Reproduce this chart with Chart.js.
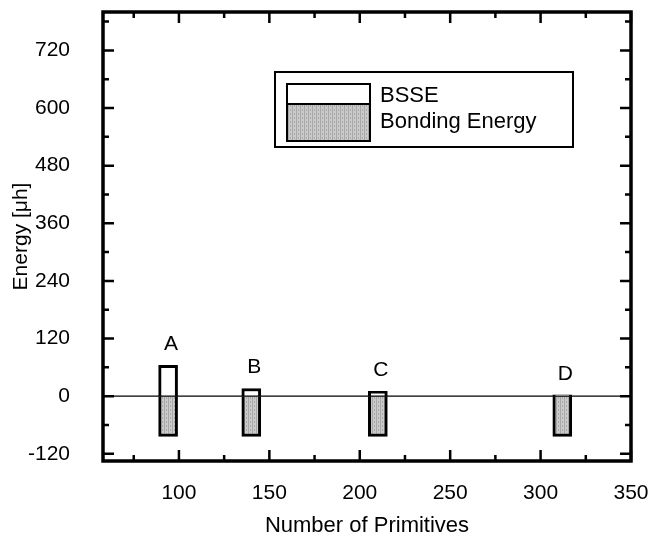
<!DOCTYPE html>
<html>
<head>
<meta charset="utf-8">
<script src="https://cdn.jsdelivr.net/npm/chart.js@4.4.0/dist/chart.umd.min.js"></script>
<style>
  html, body { margin: 0; padding: 0; background: #fff; }
  #wrap { width: 651px; height: 540px; }
</style>
</head>
<body>
<div id="wrap"><canvas id="chart" width="651" height="540"></canvas></div>
<script>
// basis sets A-D: size, BSSE and bonding energy (micro-hartree)
const systems = ["A", "B", "C", "D"];
const primitives = [94, 140, 210, 312];
const bsse = [64, 16, 10, 3];
const bonding = [-84, -84, -84, -84];

const xTicks = [100, 150, 200, 250, 300, 350];
const xMinor = [75, 125, 175, 225, 275, 325];
const yTicks = [-120, 0, 120, 240, 360, 480, 600, 720];
const yMinor = [-60, 60, 180, 300, 420, 540, 660, 780];

const FONT = "'Liberation Sans', Arial, sans-serif";
const canvas = document.getElementById("chart");
const ctx = canvas.getContext("2d");

// dotted grey fill like the printed shading
function shading() {
  const c = document.createElement("canvas");
  c.width = 4; c.height = 4;
  const g = c.getContext("2d");
  g.fillStyle = "#cacaca";
  g.fillRect(0, 0, 4, 4);
  g.fillStyle = "#a8a8a8";
  g.fillRect(0, 0, 1, 4);
  g.fillRect(2, 1, 1, 2);
  return ctx.createPattern(c, "repeat");
}
const grey = shading();

const framePlugin = {
  id: "frame",
  afterDatasetsDraw(chart) {
    const { ctx, chartArea: a, scales: { x, y } } = chart;
    ctx.save();
    ctx.strokeStyle = "#000";
    ctx.fillStyle = "#000";

    // zero line
    const y0 = y.getPixelForValue(0);
    ctx.lineWidth = 1.2;
    ctx.beginPath();
    ctx.moveTo(a.left, y0);
    ctx.lineTo(a.right, y0);
    ctx.stroke();

    // letters over the bars
    ctx.font = "21px " + FONT;
    ctx.textAlign = "center";
    ctx.textBaseline = "middle";
    chart.getDatasetMeta(0).data.forEach((bar, i) => {
      ctx.fillText(systems[i], bar.x + 3, bar.y - 21);
    });

    // box with inward ticks on all sides
    ctx.lineWidth = 3.5;
    ctx.strokeRect(a.left, a.top, a.right - a.left, a.bottom - a.top);
    ctx.lineWidth = 2.5;
    const tick = (vals, len) => {
      vals.forEach(v => {
        const px = x.getPixelForValue(v);
        if (px < a.left || px > a.right) return;
        ctx.beginPath();
        ctx.moveTo(px, a.bottom); ctx.lineTo(px, a.bottom - len);
        ctx.moveTo(px, a.top); ctx.lineTo(px, a.top + len);
        ctx.stroke();
      });
    };
    const ytick = (vals, len) => {
      vals.forEach(v => {
        const py = y.getPixelForValue(v);
        if (py < a.top || py > a.bottom) return;
        ctx.beginPath();
        ctx.moveTo(a.left, py); ctx.lineTo(a.left + len, py);
        ctx.moveTo(a.right, py); ctx.lineTo(a.right - len, py);
        ctx.stroke();
      });
    };
    tick(xTicks, 11);
    tick(xMinor, 6);
    ytick(yTicks, 11);
    ytick(yMinor, 6);

    // legend
    const L = { l: 275, t: 72, r: 573, b: 147 };
    ctx.lineWidth = 2;
    ctx.strokeRect(L.l, L.t, L.r - L.l, L.b - L.t);
    const sw = { l: 287, r: 370 };
    ctx.fillStyle = "#fff";
    ctx.fillRect(sw.l, 84, sw.r - sw.l, 20);
    ctx.fillStyle = grey;
    ctx.fillRect(sw.l, 104, sw.r - sw.l, 37);
    ctx.strokeRect(sw.l, 84, sw.r - sw.l, 20);
    ctx.strokeRect(sw.l, 104, sw.r - sw.l, 37);
    ctx.fillStyle = "#000";
    ctx.textAlign = "left";
    ctx.font = "22px " + FONT;
    ctx.fillText(chart.data.datasets[0].label, 380, 96);
    ctx.fillText(chart.data.datasets[1].label, 380, 122);
    ctx.restore();
  }
};

const tickFont = { family: FONT, size: 21 };

new Chart(ctx, {
  type: "bar",
  data: {
    datasets: [
      {
        label: "BSSE",
        data: primitives.map((p, i) => ({ x: p, y: bsse[i] })),
        backgroundColor: "#fff",
        borderColor: "#000",
        borderWidth: 3,
        barThickness: 19,
        grouped: false
      },
      {
        label: "Bonding Energy",
        data: primitives.map((p, i) => ({ x: p, y: bonding[i] })),
        backgroundColor: grey,
        borderColor: "#000",
        borderWidth: 3,
        barThickness: 19,
        grouped: false
      }
    ]
  },
  options: {
    responsive: false,
    animation: false,
    layout: { padding: { top: 12, right: 20, left: 0, bottom: 0 } },
    plugins: { legend: { display: false }, tooltip: { enabled: false } },
    scales: {
      x: {
        type: "linear",
        min: 58,
        max: 350,
        offset: false,
        grid: { display: false, drawTicks: false },
        border: { display: false },
        afterBuildTicks: s => { s.ticks = xTicks.map(v => ({ value: v })); },
        afterFit: s => { s.height = 79; s.paddingLeft = 0; s.paddingRight = 0; },
        ticks: { color: "#000", font: tickFont, padding: 20, maxRotation: 0 },
        title: { display: true, text: "Number of Primitives", color: "#000", font: { family: FONT, size: 22 }, padding: { top: 0, bottom: 1 } }
      },
      y: {
        min: -135,
        max: 800,
        grid: { display: false, drawTicks: false },
        border: { display: false },
        afterBuildTicks: s => { s.ticks = yTicks.map(v => ({ value: v })); },
        afterFit: s => { s.width = 103; s.paddingTop = 0; s.paddingBottom = 0; },
        ticks: { color: "#000", font: tickFont, padding: 33 },
        title: { display: true, text: "Energy [μh]", color: "#000", font: tickFont, padding: { top: 9, bottom: 0 } }
      }
    }
  },
  plugins: [framePlugin]
});
</script>
</body>
</html>
